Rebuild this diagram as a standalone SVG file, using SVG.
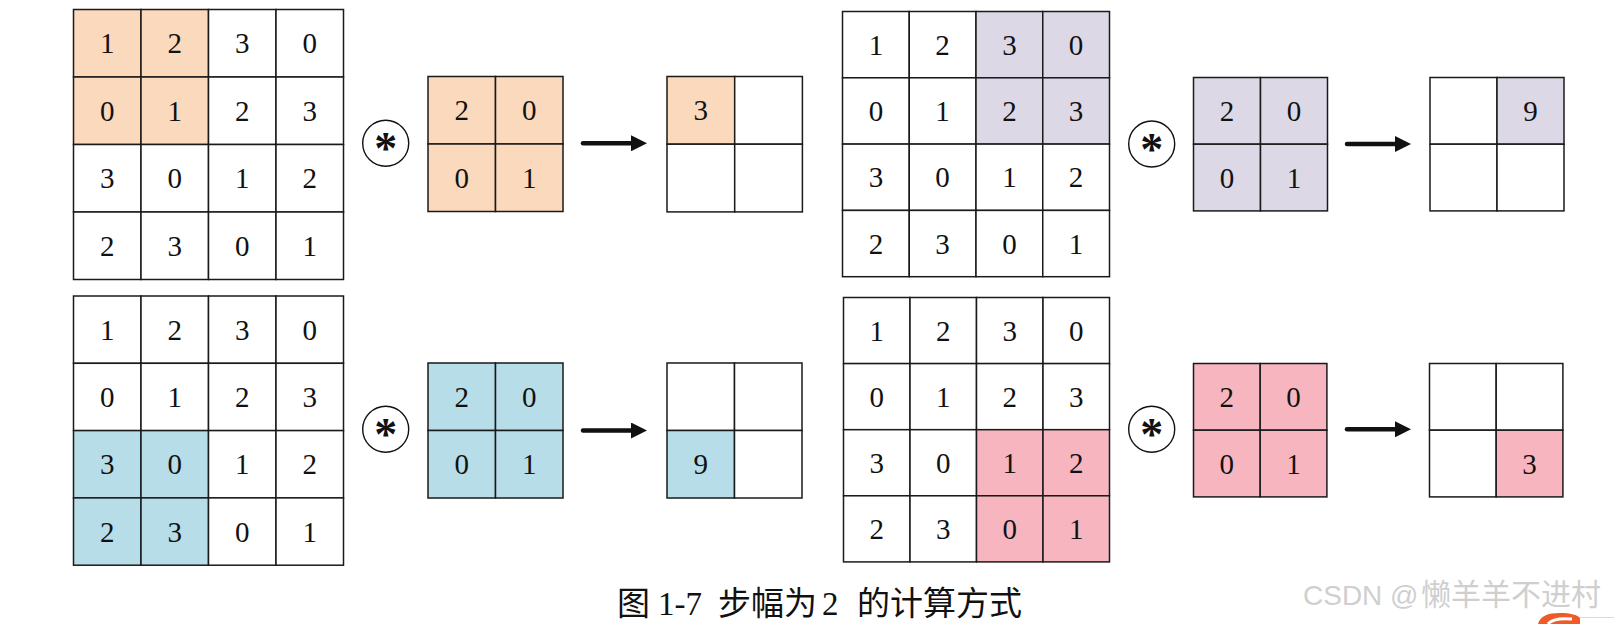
<svg xmlns="http://www.w3.org/2000/svg" width="1614" height="624" viewBox="0 0 1614 624">
<style>
rect{stroke:#1a1a1a;stroke-width:1.5;fill:#fff}
rect.o{fill:#FAD9BD}
rect.p{fill:#DDD8E6}
rect.b{fill:#B7DEE8}
rect.k{fill:#F7B6BF}
text.d{font-family:"Liberation Serif","Times New Roman",serif;font-size:29px;fill:#111;text-anchor:middle}
circle.op{fill:#fff;stroke:#111;stroke-width:1.4}
text.ast{font-family:"Liberation Serif",serif;font-weight:bold;font-size:46px;fill:#111;text-anchor:middle}
.arr{stroke:#111;stroke-width:4.5;stroke-linecap:round;fill:none}
</style>
<defs>
<marker id="ah" viewBox="0 0 16 16" refX="0" refY="8" markerWidth="16" markerHeight="16" markerUnits="userSpaceOnUse" orient="auto">
<path d="M0,0 L16,8 L0,16 z" fill="#111"/>
</marker>
</defs>

<!-- Top-left input -->
<g id="in-tl" transform="translate(73.5,9.5)">
<rect class="o" x="0" y="0" width="67.5" height="67.5"/><rect class="o" x="67.5" y="0" width="67.5" height="67.5"/><rect x="135" y="0" width="67.5" height="67.5"/><rect x="202.5" y="0" width="67.5" height="67.5"/>
<rect class="o" x="0" y="67.5" width="67.5" height="67.5"/><rect class="o" x="67.5" y="67.5" width="67.5" height="67.5"/><rect x="135" y="67.5" width="67.5" height="67.5"/><rect x="202.5" y="67.5" width="67.5" height="67.5"/>
<rect x="0" y="135" width="67.5" height="67.5"/><rect x="67.5" y="135" width="67.5" height="67.5"/><rect x="135" y="135" width="67.5" height="67.5"/><rect x="202.5" y="135" width="67.5" height="67.5"/>
<rect x="0" y="202.5" width="67.5" height="67.5"/><rect x="67.5" y="202.5" width="67.5" height="67.5"/><rect x="135" y="202.5" width="67.5" height="67.5"/><rect x="202.5" y="202.5" width="67.5" height="67.5"/>
<text class="d" x="33.75" y="43.75">1</text><text class="d" x="101.25" y="43.75">2</text><text class="d" x="168.75" y="43.75">3</text><text class="d" x="236.25" y="43.75">0</text>
<text class="d" x="33.75" y="111.25">0</text><text class="d" x="101.25" y="111.25">1</text><text class="d" x="168.75" y="111.25">2</text><text class="d" x="236.25" y="111.25">3</text>
<text class="d" x="33.75" y="178.75">3</text><text class="d" x="101.25" y="178.75">0</text><text class="d" x="168.75" y="178.75">1</text><text class="d" x="236.25" y="178.75">2</text>
<text class="d" x="33.75" y="246.25">2</text><text class="d" x="101.25" y="246.25">3</text><text class="d" x="168.75" y="246.25">0</text><text class="d" x="236.25" y="246.25">1</text>
</g>
<g id="op-tl"><circle class="op" cx="385.7" cy="143.3" r="23"/><text class="ast" x="385.7" y="164">*</text></g>
<g id="k-tl" transform="translate(428,76.5)">
<rect class="o" x="0" y="0" width="67.5" height="67.5"/><rect class="o" x="67.5" y="0" width="67.5" height="67.5"/>
<rect class="o" x="0" y="67.5" width="67.5" height="67.5"/><rect class="o" x="67.5" y="67.5" width="67.5" height="67.5"/>
<text class="d" x="33.75" y="43.75">2</text><text class="d" x="101.25" y="43.75">0</text>
<text class="d" x="33.75" y="111.25">0</text><text class="d" x="101.25" y="111.25">1</text>
</g>
<g id="out-tl" transform="translate(667,76.5)">
<rect class="o" x="0" y="0" width="67.7" height="67.7"/><rect x="67.7" y="0" width="67.7" height="67.7"/>
<rect x="0" y="67.7" width="67.7" height="67.7"/><rect x="67.7" y="67.7" width="67.7" height="67.7"/>
<text class="d" x="33.85" y="43.85">3</text>
</g>

<!-- Top-right input -->
<g id="in-tr" transform="translate(842.5,11.5)">
<rect x="0" y="0" width="66.75" height="66.3"/><rect x="66.75" y="0" width="66.75" height="66.3"/><rect class="p" x="133.5" y="0" width="66.75" height="66.3"/><rect class="p" x="200.25" y="0" width="66.75" height="66.3"/>
<rect x="0" y="66.3" width="66.75" height="66.3"/><rect x="66.75" y="66.3" width="66.75" height="66.3"/><rect class="p" x="133.5" y="66.3" width="66.75" height="66.3"/><rect class="p" x="200.25" y="66.3" width="66.75" height="66.3"/>
<rect x="0" y="132.6" width="66.75" height="66.3"/><rect x="66.75" y="132.6" width="66.75" height="66.3"/><rect x="133.5" y="132.6" width="66.75" height="66.3"/><rect x="200.25" y="132.6" width="66.75" height="66.3"/>
<rect x="0" y="198.9" width="66.75" height="66.3"/><rect x="66.75" y="198.9" width="66.75" height="66.3"/><rect x="133.5" y="198.9" width="66.75" height="66.3"/><rect x="200.25" y="198.9" width="66.75" height="66.3"/>
<text class="d" x="33.4" y="43.15">1</text><text class="d" x="100.1" y="43.15">2</text><text class="d" x="166.9" y="43.15">3</text><text class="d" x="233.6" y="43.15">0</text>
<text class="d" x="33.4" y="109.45">0</text><text class="d" x="100.1" y="109.45">1</text><text class="d" x="166.9" y="109.45">2</text><text class="d" x="233.6" y="109.45">3</text>
<text class="d" x="33.4" y="175.75">3</text><text class="d" x="100.1" y="175.75">0</text><text class="d" x="166.9" y="175.75">1</text><text class="d" x="233.6" y="175.75">2</text>
<text class="d" x="33.4" y="242.05">2</text><text class="d" x="100.1" y="242.05">3</text><text class="d" x="166.9" y="242.05">0</text><text class="d" x="233.6" y="242.05">1</text>
</g>
<g id="op-tr"><circle class="op" cx="1151.7" cy="144" r="23"/><text class="ast" x="1151.7" y="164.7">*</text></g>
<g id="k-tr" transform="translate(1193.5,77.5)">
<rect class="p" x="0" y="0" width="67" height="66.7"/><rect class="p" x="67" y="0" width="67" height="66.7"/>
<rect class="p" x="0" y="66.7" width="67" height="66.7"/><rect class="p" x="67" y="66.7" width="67" height="66.7"/>
<text class="d" x="33.5" y="43.35">2</text><text class="d" x="100.5" y="43.35">0</text>
<text class="d" x="33.5" y="110.05">0</text><text class="d" x="100.5" y="110.05">1</text>
</g>
<g id="out-tr" transform="translate(1430,77.5)">
<rect x="0" y="0" width="67" height="66.7"/><rect class="p" x="67" y="0" width="67" height="66.7"/>
<rect x="0" y="66.7" width="67" height="66.7"/><rect x="67" y="66.7" width="67" height="66.7"/>
<text class="d" x="100.5" y="43.35">9</text>
</g>

<!-- Bottom-left input -->
<g id="in-bl" transform="translate(73.5,296)">
<rect x="0" y="0" width="67.5" height="67.3"/><rect x="67.5" y="0" width="67.5" height="67.3"/><rect x="135" y="0" width="67.5" height="67.3"/><rect x="202.5" y="0" width="67.5" height="67.3"/>
<rect x="0" y="67.3" width="67.5" height="67.3"/><rect x="67.5" y="67.3" width="67.5" height="67.3"/><rect x="135" y="67.3" width="67.5" height="67.3"/><rect x="202.5" y="67.3" width="67.5" height="67.3"/>
<rect class="b" x="0" y="134.6" width="67.5" height="67.3"/><rect class="b" x="67.5" y="134.6" width="67.5" height="67.3"/><rect x="135" y="134.6" width="67.5" height="67.3"/><rect x="202.5" y="134.6" width="67.5" height="67.3"/>
<rect class="b" x="0" y="201.9" width="67.5" height="67.3"/><rect class="b" x="67.5" y="201.9" width="67.5" height="67.3"/><rect x="135" y="201.9" width="67.5" height="67.3"/><rect x="202.5" y="201.9" width="67.5" height="67.3"/>
<text class="d" x="33.75" y="43.65">1</text><text class="d" x="101.25" y="43.65">2</text><text class="d" x="168.75" y="43.65">3</text><text class="d" x="236.25" y="43.65">0</text>
<text class="d" x="33.75" y="110.95">0</text><text class="d" x="101.25" y="110.95">1</text><text class="d" x="168.75" y="110.95">2</text><text class="d" x="236.25" y="110.95">3</text>
<text class="d" x="33.75" y="178.25">3</text><text class="d" x="101.25" y="178.25">0</text><text class="d" x="168.75" y="178.25">1</text><text class="d" x="236.25" y="178.25">2</text>
<text class="d" x="33.75" y="245.55">2</text><text class="d" x="101.25" y="245.55">3</text><text class="d" x="168.75" y="245.55">0</text><text class="d" x="236.25" y="245.55">1</text>
</g>
<g id="op-bl"><circle class="op" cx="385.7" cy="429.3" r="23"/><text class="ast" x="385.7" y="450">*</text></g>
<g id="k-bl" transform="translate(428,363)">
<rect class="b" x="0" y="0" width="67.5" height="67.5"/><rect class="b" x="67.5" y="0" width="67.5" height="67.5"/>
<rect class="b" x="0" y="67.5" width="67.5" height="67.5"/><rect class="b" x="67.5" y="67.5" width="67.5" height="67.5"/>
<text class="d" x="33.75" y="43.75">2</text><text class="d" x="101.25" y="43.75">0</text>
<text class="d" x="33.75" y="111.25">0</text><text class="d" x="101.25" y="111.25">1</text>
</g>
<g id="out-bl" transform="translate(667,363)">
<rect x="0" y="0" width="67.5" height="67.5"/><rect x="67.5" y="0" width="67.5" height="67.5"/>
<rect class="b" x="0" y="67.5" width="67.5" height="67.5"/><rect x="67.5" y="67.5" width="67.5" height="67.5"/>
<text class="d" x="33.75" y="111.25">9</text>
</g>

<!-- Bottom-right input -->
<g id="in-br" transform="translate(843.5,297.5)">
<rect x="0" y="0" width="66.5" height="66.1"/><rect x="66.5" y="0" width="66.5" height="66.1"/><rect x="133" y="0" width="66.5" height="66.1"/><rect x="199.5" y="0" width="66.5" height="66.1"/>
<rect x="0" y="66.1" width="66.5" height="66.1"/><rect x="66.5" y="66.1" width="66.5" height="66.1"/><rect x="133" y="66.1" width="66.5" height="66.1"/><rect x="199.5" y="66.1" width="66.5" height="66.1"/>
<rect x="0" y="132.2" width="66.5" height="66.1"/><rect x="66.5" y="132.2" width="66.5" height="66.1"/><rect class="k" x="133" y="132.2" width="66.5" height="66.1"/><rect class="k" x="199.5" y="132.2" width="66.5" height="66.1"/>
<rect x="0" y="198.3" width="66.5" height="66.1"/><rect x="66.5" y="198.3" width="66.5" height="66.1"/><rect class="k" x="133" y="198.3" width="66.5" height="66.1"/><rect class="k" x="199.5" y="198.3" width="66.5" height="66.1"/>
<text class="d" x="33.25" y="43.05">1</text><text class="d" x="99.75" y="43.05">2</text><text class="d" x="166.25" y="43.05">3</text><text class="d" x="232.75" y="43.05">0</text>
<text class="d" x="33.25" y="109.15">0</text><text class="d" x="99.75" y="109.15">1</text><text class="d" x="166.25" y="109.15">2</text><text class="d" x="232.75" y="109.15">3</text>
<text class="d" x="33.25" y="175.25">3</text><text class="d" x="99.75" y="175.25">0</text><text class="d" x="166.25" y="175.25">1</text><text class="d" x="232.75" y="175.25">2</text>
<text class="d" x="33.25" y="241.35">2</text><text class="d" x="99.75" y="241.35">3</text><text class="d" x="166.25" y="241.35">0</text><text class="d" x="232.75" y="241.35">1</text>
</g>
<g id="op-br"><circle class="op" cx="1151.7" cy="429.3" r="23"/><text class="ast" x="1151.7" y="450">*</text></g>
<g id="k-br" transform="translate(1193.5,363.5)">
<rect class="k" x="0" y="0" width="66.7" height="66.7"/><rect class="k" x="66.7" y="0" width="66.7" height="66.7"/>
<rect class="k" x="0" y="66.7" width="66.7" height="66.7"/><rect class="k" x="66.7" y="66.7" width="66.7" height="66.7"/>
<text class="d" x="33.35" y="43.35">2</text><text class="d" x="100.05" y="43.35">0</text>
<text class="d" x="33.35" y="110.05">0</text><text class="d" x="100.05" y="110.05">1</text>
</g>
<g id="out-br" transform="translate(1429.5,363.5)">
<rect x="0" y="0" width="66.7" height="66.7"/><rect x="66.7" y="0" width="66.7" height="66.7"/>
<rect x="0" y="66.7" width="66.7" height="66.7"/><rect class="k" x="66.7" y="66.7" width="66.7" height="66.7"/>
<text class="d" x="100.05" y="110.05">3</text>
</g>

<!-- Connectors -->
<g id="connectors">
<line class="arr" x1="583" y1="143.3" x2="631" y2="143.3" marker-end="url(#ah)"/>
<line class="arr" x1="583" y1="430.5" x2="631" y2="430.5" marker-end="url(#ah)"/>
<line class="arr" x1="1347" y1="144" x2="1395" y2="144" marker-end="url(#ah)"/>
<line class="arr" x1="1347" y1="429.3" x2="1395" y2="429.3" marker-end="url(#ah)"/>
</g>

<!-- Caption -->
<text id="caption" y="615" font-family="'Liberation Serif','Noto Sans CJK SC',serif" font-size="33" fill="#111"><tspan x="617">图</tspan><tspan x="658">1-7</tspan><tspan x="718">步幅为</tspan><tspan x="822">2</tspan><tspan x="857">的计算方式</tspan></text>

<!-- Watermark -->
<text id="watermark" y="605" font-family="'Liberation Sans','Noto Sans CJK SC',sans-serif" fill="#cfcfcf"><tspan x="1303" font-size="28">CSDN @</tspan><tspan x="1421" font-size="30">懒羊羊不进村</tspan></text>
<path d="M1538,624 C1540,616 1548,613 1560,613 C1570,613 1578,615 1580,618 L1580,624 Z" fill="#F05A28"/>
<path d="M1548,624 C1552,619 1560,618 1572,619" stroke="#fff" stroke-width="3" fill="none"/>
<line x1="1580" y1="617.5" x2="1614" y2="617.5" stroke="#cfdcec" stroke-width="1"/>
</svg>
